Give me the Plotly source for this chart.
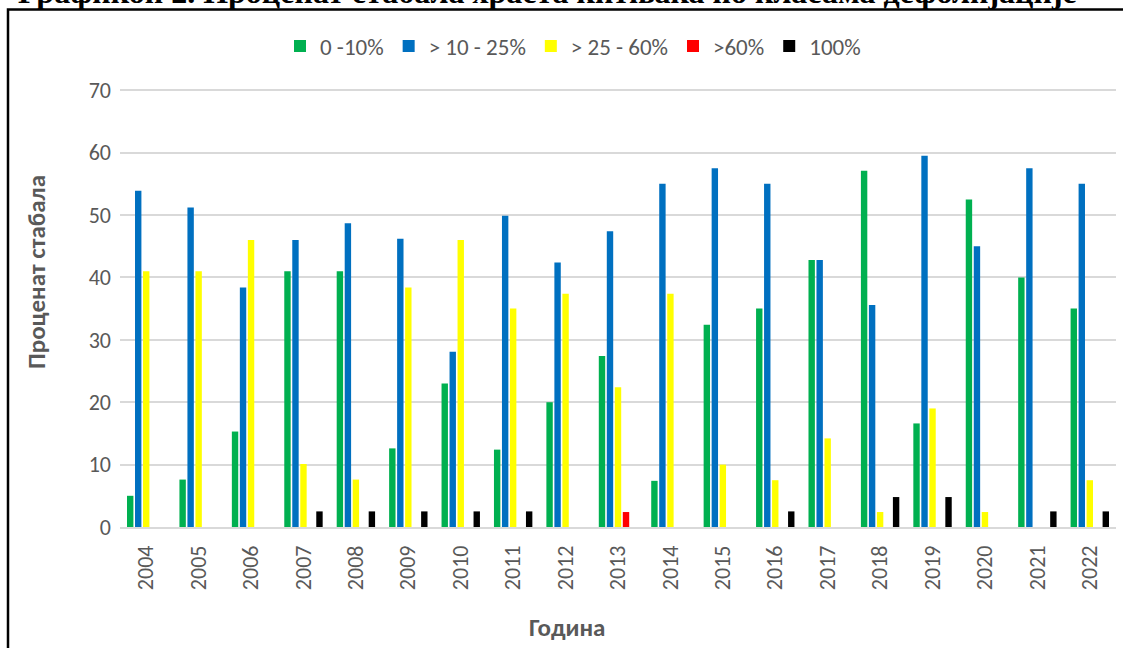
import plotly.graph_objects as go

years = ["2004", "2005", "2006", "2007", "2008", "2009", "2010", "2011", "2012", "2013",
         "2014", "2015", "2016", "2017", "2018", "2019", "2020", "2021", "2022"]
green = [5.0, 7.6, 15.3, 41.0, 41.0, 12.6, 23.0, 12.4, 20.0, 27.4,
         7.4, 32.4, 35.0, 42.8, 57.1, 16.6, 52.5, 40.0, 35.0]
blue = [53.9, 51.2, 38.4, 46.0, 48.7, 46.2, 28.1, 49.9, 42.4, 47.4,
        55.0, 57.5, 55.0, 42.8, 35.6, 59.5, 45.0, 57.5, 55.0]
yellow = [41.0, 41.0, 46.0, 10.1, 7.6, 38.4, 46.0, 35.0, 37.4, 22.4,
          37.4, 10.0, 7.5, 14.2, 2.4, 19.0, 2.4, 0, 7.5]
red = [0, 0, 0, 0, 0, 0, 0, 0, 0, 2.4,
       0, 0, 0, 0, 0, 0, 0, 0, 0]
black = [0, 0, 0, 2.5, 2.5, 2.5, 2.5, 2.5, 0, 0,
         0, 0, 2.5, 0, 4.8, 4.8, 0, 2.5, 2.5]

series_names = ["0 -10%", "> 10 - 25%", "> 25 - 60%", ">60%", "100%"]
series_vals = [green, blue, yellow, red, black]
series_colors = ["#00B050", "#0070C0", "#FFFF00", "#FF0000", "#000000"]

FONT = "Calibri, Carlito, Lato, sans-serif"
GREY = "#595959"

fig = go.Figure()
for name, vals, col in zip(series_names, series_vals, series_colors):
    fig.add_trace(go.Bar(x=years, y=vals, name=name,
                         marker=dict(color=col, line=dict(width=0))))

# pixel helpers for layout (plot area: x 120..1116, y 89..527)
L, R, T, B = 120, 1116, 89, 527
def px(x):
    return (x - L) / (R - L)
def py(y):
    return (B - y) / (B - T)

fig.update_layout(
    width=1123, height=648,
    margin=dict(l=L, r=1123 - R, t=T, b=648 - B, pad=0),
    paper_bgcolor="white", plot_bgcolor="white",
    barmode="group", bargap=0.237, bargroupgap=0.2,
    font=dict(family=FONT, color=GREY, size=22),
    legend=dict(orientation="h", x=px(573), xanchor="center", y=py(46), yanchor="middle",
                font=dict(family=FONT, color=GREY, size=23), itemwidth=30,
                traceorder="normal", bgcolor="rgba(0,0,0,0)"),
    xaxis=dict(type="category", tickangle=-90, showgrid=False, ticks="",
               showline=True, linecolor="#D9D9D9", linewidth=1.5,
               tickfont=dict(family=FONT, color=GREY, size=22),
               ticklabelstandoff=8),
    yaxis=dict(range=[0, 70.2], tickvals=[0, 10, 20, 30, 40, 50, 60, 70],
               showgrid=True, gridcolor="#D9D9D9", gridwidth=1.5,
               zeroline=False, ticks="", showline=False,
               tickfont=dict(family=FONT, color=GREY, size=22),
               ticklabelstandoff=8),
    showlegend=True,
)

# outer chart border (partially off-page)
fig.add_shape(type="rect", xref="paper", yref="paper",
              x0=px(8), x1=px(1140), y0=py(700), y1=py(9.5),
              line=dict(color="black", width=2.5), fillcolor="rgba(0,0,0,0)", layer="below")

# document caption (cut off at top of page)
fig.add_annotation(text="<b>Графикон 2. Проценат стабала храста китњака по класама дефолијације</b>",
                   xref="paper", yref="paper", x=px(547), y=py(-8.5),
                   xanchor="center", yanchor="middle", showarrow=False,
                   font=dict(family="Liberation Serif, Times New Roman, serif", size=32, color="black"))

# axis titles
fig.add_annotation(text="<b>Проценат стабала</b>", xref="paper", yref="paper",
                   x=px(36), y=py(272), textangle=-90, showarrow=False,
                   xanchor="center", yanchor="middle",
                   font=dict(family=FONT, size=25, color=GREY))
fig.add_annotation(text="<b>Година</b>", xref="paper", yref="paper",
                   x=px(567), y=py(627), showarrow=False,
                   xanchor="center", yanchor="middle",
                   font=dict(family=FONT, size=25, color=GREY))

fig.write_html("out.html", config={"displayModeBar": False},
               post_script="document.body.style.margin='0';")
